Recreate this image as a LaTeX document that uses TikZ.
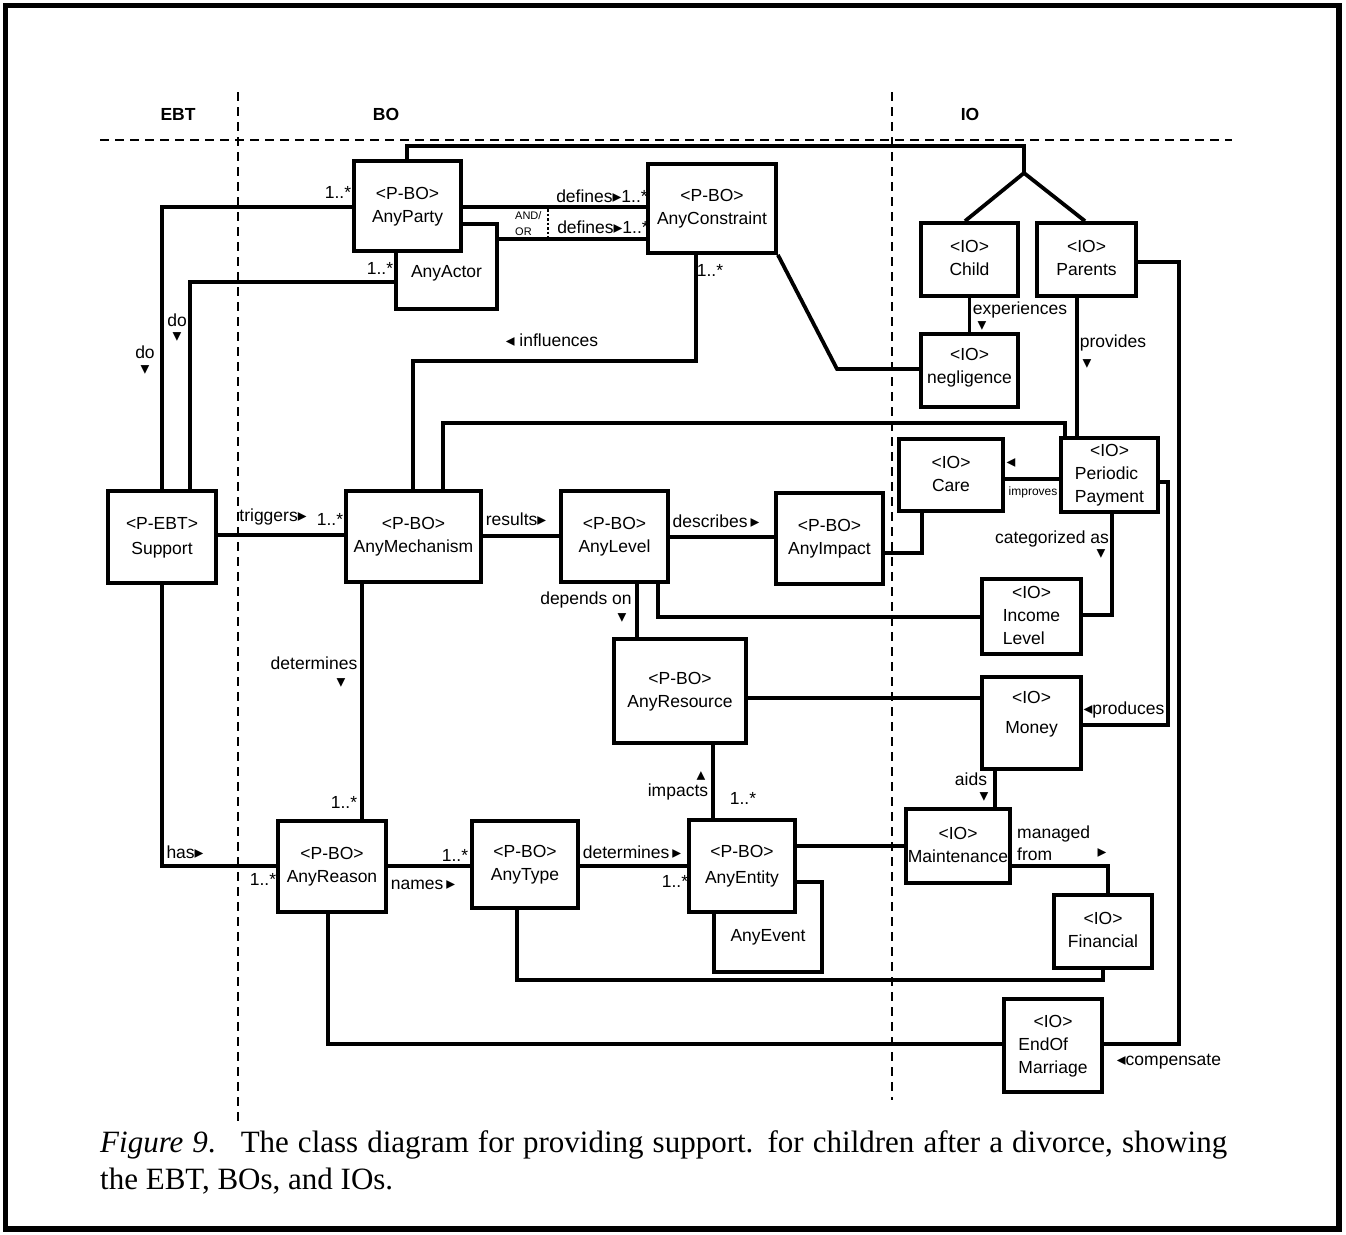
\documentclass[tikz,border=0pt]{standalone}
\usepackage{fontspec}
\setmainfont{Liberation Serif}
\setsansfont{Liberation Sans}
\newfontfamily\symfont{DejaVu Sans}
\usetikzlibrary{calc}

% fonts used in the diagram
\newcommand\dgmfont{\sffamily\fontsize{17.5}{23}\selectfont}
\newcommand\smallfont{\sffamily\fontsize{11}{16}\selectfont}
% small filled direction triangles
\newcommand\TriR{{\symfont\char"25B8}}
\newcommand\TriL{{\symfont\char"25C2}}
\newcommand\TriD{{\symfont\char"25BE}}
\newcommand\TriU{{\symfont\char"25B4}}
% class box contents
\newcommand\clsbox[1]{\begin{tabular}{@{}c@{}}#1\end{tabular}}
\newcommand\clsboxl[2]{\begin{tabular}{@{}l@{}}\multicolumn{1}{@{}c@{}}{#1}\\#2\end{tabular}}
\newcommand\liftby[2]{\raisebox{#1}[\height][\depth]{#2}}

\begin{document}
\begin{tikzpicture}[x=1pt,y=-1pt,
  box/.style={draw, line width=3.8pt, fill=white, inner sep=0pt, font=\dgmfont},
  link/.style={line width=3.8pt},
  sep/.style={line width=2.4pt, dash pattern=on 9pt off 6pt},
  lbl/.style={inner sep=0pt, font=\dgmfont},
  head/.style={inner sep=0pt, font=\sffamily\bfseries\fontsize{17.5}{20}\selectfont},
  captext/.style={inner sep=0pt, anchor=base west, font=\rmfamily\fontsize{31}{37}\selectfont}]
\useasboundingbox (0,0) rectangle (1346,1234);
\draw[line width=5.5pt] (5.5,5.5) rectangle (1339,1229);

% lane separators and headings
\draw[sep] (100,140) -- (1232,140);
\draw[sep] (238,92) -- (238,1124);
\draw[sep] (892,92) -- (892,1100);
\node[head] (hEBT) at (178,114) {EBT};
\node[head] (hBO) at (386,114) {BO};
\node[head] (hIO) at (970,114) {IO};

% classes
\node[box,minimum width=101,minimum height=85] (AnyActor) at (446.5,266.5) {\liftby{-7pt}{AnyActor}};
\node[box,minimum width=107,minimum height=90] (AnyParty) at (407.5,206) {\clsbox{<P-BO>\\AnyParty}};
\node[box,minimum width=128,minimum height=89] (AnyConstraint) at (712,208.5) {\clsbox{<P-BO>\\AnyConstraint}};
\node[box,minimum width=108,minimum height=92] (Support) at (162,537) {\clsbox{<P-EBT>\\[2pt]Support}};
\node[box,minimum width=135,minimum height=91] (AnyMechanism) at (413.5,536.5) {\clsbox{<P-BO>\\AnyMechanism}};
\node[box,minimum width=107,minimum height=91] (AnyLevel) at (614.5,536.5) {\clsbox{<P-BO>\\AnyLevel}};
\node[box,minimum width=107,minimum height=91] (AnyImpact) at (829.5,538.5) {\clsbox{<P-BO>\\AnyImpact}};
\node[box,minimum width=132,minimum height=104] (AnyResource) at (680,691) {\clsbox{<P-BO>\\AnyResource}};
\node[box,minimum width=108,minimum height=91] (AnyReason) at (332,866.5) {\clsbox{<P-BO>\\AnyReason}};
\node[box,minimum width=106,minimum height=87] (AnyType) at (525,864.5) {\clsbox{<P-BO>\\AnyType}};
\node[box,minimum width=108,minimum height=90] (AnyEvent) at (768,927) {\liftby{-10pt}{AnyEvent}};
\node[box,minimum width=106,minimum height=92] (AnyEntity) at (742,866) {\clsbox{<P-BO>\\[3pt]AnyEntity}};
\node[box,minimum width=97,minimum height=73] (Child) at (969.5,259.5) {\clsbox{<IO>\\Child}};
\node[box,minimum width=99,minimum height=73] (Parents) at (1086.5,259.5) {\clsbox{<IO>\\Parents}};
\node[box,minimum width=97,minimum height=73] (Negligence) at (969.5,370.5) {\liftby{3pt}{\clsbox{<IO>\\negligence}}};
\node[box,minimum width=104,minimum height=72] (Care) at (951,475) {\clsbox{<IO>\\Care}};
\node[box,minimum width=97,minimum height=74] (Payment) at (1109.5,475) {\clsboxl{<IO>}{Periodic\\Payment}};
\node[box,minimum width=99,minimum height=75] (Income) at (1031.5,616.5) {\clsboxl{<IO>}{Income\\Level}};
\node[box,minimum width=99,minimum height=92] (Money) at (1031.5,723) {\liftby{9pt}{\clsbox{<IO>\\[7pt]Money}}};
\node[box,minimum width=104,minimum height=74] (Maintenance) at (958,846) {\clsbox{<IO>\\Maintenance}};
\node[box,minimum width=98,minimum height=73] (Financial) at (1103,931.5) {\clsbox{<IO>\\Financial}};
\node[box,minimum width=98,minimum height=93] (EndOfMarriage) at (1053,1045.5) {\clsboxl{<IO>}{EndOf\\Marriage}};

% associations
\draw[link] (AnyParty.west |- 0,207) -| (Support.north);
\draw[link] (AnyActor.west |- 0,282) -| (Support.north -| 190,0);
\draw[link] (AnyParty.north -| 407,0) |- (1024,146) -- (1024,173) coordinate (fork);
\draw[link] (fork) -- (Child.north -| 965,0);
\draw[link] (fork) -- (Parents.north -| 1085,0);
\draw[link] (AnyParty.east |- 0,207) -- (AnyConstraint.west |- 0,207);
\draw[link] (AnyActor.east |- 0,239) -- (AnyConstraint.west |- 0,239);
\draw[line width=2.4pt, dash pattern=on 2.5pt off 2pt] (548,209) -- (548,237);
\draw[link] (AnyConstraint.south -| 696,0) -- (696,361) -| (AnyMechanism.north -| 413,0);
\draw[link] (AnyMechanism.north -| 443,0) -- (443,423) -| (Payment.north -| 1065,0);
\draw[link] (Parents.south -| 1077,0) -- (Payment.north -| 1077,0);
\draw[link] (Child.south) -- (Negligence.north);
\draw[link] (AnyConstraint.south east) -- (837,369) -- (Negligence.west |- 0,369);
\draw[link] (Parents.east |- 0,262) -| (1179,1044) -- (EndOfMarriage.east |- 0,1044);
\draw[link] (Support.east |- 0,535) -- (AnyMechanism.west |- 0,535);
\draw[link] (AnyMechanism.east |- 0,536) -- (AnyLevel.west |- 0,536);
\draw[link] (AnyLevel.east |- 0,537) -- (AnyImpact.west |- 0,537);
\draw[link] (AnyImpact.east |- 0,553) -| (Care.south -| 922,0);
\draw[link] (Care.east |- 0,479) -- (Payment.west |- 0,479);
\draw[link] (AnyLevel.south -| 658,0) |- (Income.west |- 0,617);
\draw[link] (Payment.south -| 1112,0) |- (Income.east |- 0,615);
\draw[link] (Payment.east |- 0,482) -| (1168,725) -- (Money.east |- 0,725);
\draw[link] (AnyLevel.south -| 637,0) -- (AnyResource.north -| 637,0);
\draw[link] (AnyResource.east |- 0,698) -- (Money.west |- 0,698);
\draw[link] (AnyResource.south -| 713,0) -- (AnyEntity.north -| 713,0);
\draw[link] (AnyEntity.east |- 0,846) -- (Maintenance.west |- 0,846);
\draw[link] (Money.south -| 995,0) -- (Maintenance.north -| 995,0);
\draw[link] (Maintenance.east |- 0,866) -| (Financial.north -| 1108,0);
\draw[link] (AnyType.south -| 517,0) -- (517,980) -| (Financial.south);
\draw[link] (AnyReason.south -| 328,0) |- (EndOfMarriage.west |- 0,1044);
\draw[link] (AnyMechanism.south -| 362,0) -- (AnyReason.north -| 362,0);
\draw[link] (Support.south) |- (AnyReason.west |- 0,866);
\draw[link] (AnyReason.east |- 0,866) -- (AnyType.west |- 0,866);
\draw[link] (AnyType.east |- 0,866) -- (AnyEntity.west |- 0,866);

% role names and multiplicities
\node[lbl] (m1) at (338,192) {1..*};
\node[lbl] (m2) at (380,268) {1..*};
\node[lbl] (def1) at (602,196) {defines\TriR1..*};
\node[lbl] (def2) at (603,227) {defines\TriR1..*};
\node[inner sep=0pt, font=\smallfont, align=left, anchor=west] (andor) at (515,224) {AND/\\OR};
\node[lbl] (m3) at (710,270) {1..*};
\node[lbl] (infl) at (552,340) {\TriL{} influences};
\node[lbl] (do1) at (177,320) {do};
\node[lbl] (do1t) at (177,337) {\TriD};
\node[lbl] (do2) at (145,352) {do};
\node[lbl] (do2t) at (145,370) {\TriD};
\node[lbl] (trig) at (273,517) {triggers\TriR};
\node[lbl] (m4) at (330,519) {1..*};
\node[lbl] (res) at (516,519) {results\TriR};
\node[lbl] (desc) at (716,521) {describes\,\TriR};
\node[lbl] (exp) at (1020,310) {experiences};
\node[lbl] (expt) at (982,326) {\TriD};
\node[lbl] (prov) at (1113,343) {provides};
\node[lbl] (provt) at (1087,364) {\TriD};
\node[lbl] (impt) at (1011,463) {\TriL};
\node[inner sep=0pt, font=\sffamily\fontsize{12}{14}\selectfont] (impr) at (1033,492) {improves};
\node[lbl] (cat) at (1052,539) {categorized as};
\node[lbl] (catt) at (1101,554) {\TriD};
\node[lbl] (dep) at (586,600) {depends on};
\node[lbl] (dept) at (622,618) {\TriD};
\node[lbl] (prod) at (1124,710) {\TriL produces};
\node[lbl] (detm) at (314,663) {determines};
\node[lbl] (detmt) at (341,683) {\TriD};
\node[lbl] (impa) at (678,792) {impacts};
\node[lbl] (impat) at (701,776) {\TriU};
\node[lbl] (m5) at (743,798) {1..*};
\node[lbl] (aids) at (971,779) {aids};
\node[lbl] (aidst) at (984,797) {\TriD};
\node[lbl, align=left, anchor=west, font=\sffamily\fontsize{17.5}{22}\selectfont] (mgd) at (1017,843) {managed\\from};
\node[lbl] (mgdt) at (1102,853) {\TriR};
\node[lbl] (comp) at (1169,1062) {\TriL compensate};
\node[lbl] (has) at (185,852) {has\TriR};
\node[lbl] (m6) at (263,879) {1..*};
\node[lbl] (m7) at (344,802) {1..*};
\node[lbl] (names) at (423,885) {names\,\TriR};
\node[lbl] (m8) at (455,855) {1..*};
\node[lbl] (detn) at (632,852) {determines\,\TriR};
\node[lbl] (m9) at (675,881) {1..*};

% caption
\node[captext] (cap1) at (100,1152) {\makebox[1127pt][s]{\textit{Figure 9}.\hspace{0.35em} The class diagram for providing support. for children after a divorce, showing}};
\node[captext] (cap2) at (100,1189) {the EBT, BOs, and IOs.};
\end{tikzpicture}
\end{document}
